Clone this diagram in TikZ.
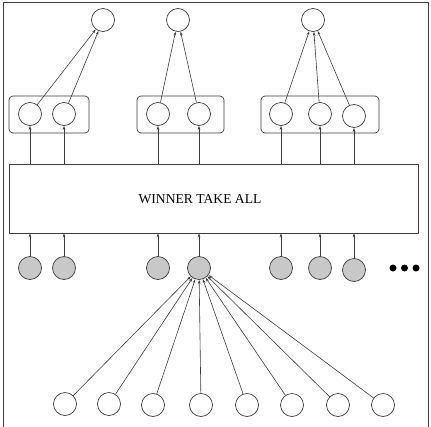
\documentclass[tikz,border=0pt]{standalone}
\usepackage{fontspec}
\setmainfont{Liberation Serif}
\usetikzlibrary{arrows.meta,positioning,calc}
\definecolor{wtaLine}{RGB}{60, 60, 60}
\definecolor{wtaGray}{RGB}{200, 200, 200}

\tikzset{
    unit/.style={circle, draw=wtaLine, line width=0.7pt, minimum size=23pt, inner sep=0pt},
    hidden/.style={unit, fill=wtaGray},
    groupbox/.style={draw=wtaLine, line width=0.7pt, rounded corners=4pt, inner sep=0pt},
    link/.style={draw=wtaLine, line width=0.6pt, -{Stealth[length=4pt,width=2.6pt]}},
    dot/.style={circle, fill=black, minimum size=7pt, inner sep=0pt}
}

\begin{document}
\begin{tikzpicture}[x=1pt, y=-1pt, line cap=round, line join=round]
        \useasboundingbox (0,0) rectangle (431,426);
        \draw[wtaLine, line width=0.8pt] (3,432) -- (3,2) -- (428,2) -- (428,432);
        % groups
        \node[groupbox, minimum width=80pt, minimum height=37pt] (box1) at (49,114.5) {};
        \node[groupbox, minimum width=87pt, minimum height=37pt] (box2) at (180.5,114.5) {};
        \node[groupbox, minimum width=118pt, minimum height=37pt] (box3) at (320,114.5) {};
        \node[unit] (top1) at (103,20) {};
        \node[unit] (top2) at (178,20) {};
        \node[unit] (top3) at (313,20) {};
        \node[unit] (g1a) at (30,114) {};
        \node[unit] (g1b) at (64,114) {};
        \node[unit] (g2a) at (158,114) {};
        \node[unit] (g2b) at (199,114) {};
        \node[unit] (g3a) at (281,114) {};
        \node[unit] (g3b) at (320,114) {};
        \node[unit] (g3c) at (354,116) {};
        \path[link] (g1a) -- (top1);
        \path[link] (g1b) -- (top1);
        \path[link] (g2a) -- (top2);
        \path[link] (g2b) -- (top2);
        \path[link] (g3a) -- (top3);
        \path[link] (g3b) -- (top3);
        \path[link] (g3c) -- (top3);
        % winner take all layer
        \node[draw=wtaLine, line width=0.7pt, minimum width=409pt, minimum height=69pt, inner sep=0pt] (wta) at (213.5,198.5) {};
        \node[font=\fontsize{13.6}{16}\selectfont, inner sep=0pt] (wtaText) at (200,199.5) {WINNER TAKE ALL};
        \path[link] (wta.north -| g1a) -- (g1a);
        \path[link] (wta.north -| g1b) -- (g1b);
        \path[link] (wta.north -| g2a) -- (g2a);
        \path[link] (wta.north -| g2b) -- (g2b);
        \path[link] (wta.north -| g3a) -- (g3a);
        \path[link] (wta.north -| g3b) -- (g3b);
        \path[link] (wta.north -| g3c) -- (g3c);
        % hidden units
        \node[hidden] (h1) at (30,268) {};
        \node[hidden] (h2) at (64,268) {};
        \node[hidden] (h3) at (158,268) {};
        \node[hidden] (h4) at (199,268) {};
        \node[hidden] (h5) at (281,268) {};
        \node[hidden] (h6) at (320,268) {};
        \node[hidden] (h7) at (354,270) {};
        \node[dot] (d1) at (393,268) {};
        \node[dot] (d2) at (404.5,268) {};
        \node[dot] (d3) at (416,268) {};
        \path[link] (h1) -- (h1 |- wta.south);
        \path[link] (h2) -- (h2 |- wta.south);
        \path[link] (h3) -- (h3 |- wta.south);
        \path[link] (h4) -- (h4 |- wta.south);
        \path[link] (h5) -- (h5 |- wta.south);
        \path[link] (h6) -- (h6 |- wta.south);
        \path[link] (h7) -- (h7 |- wta.south);
        % inputs
        \node[unit] (in1) at (65,404) {};
        \node[unit] (in2) at (109,404) {};
        \node[unit] (in3) at (153,405) {};
        \node[unit] (in4) at (201,405) {};
        \node[unit] (in5) at (247,405) {};
        \node[unit] (in6) at (292,405) {};
        \node[unit] (in7) at (338,405) {};
        \node[unit] (in8) at (383,405) {};
        \path[link] (in1) -- (h4);
        \path[link] (in2) -- (h4);
        \path[link] (in3) -- (h4);
        \path[link] (in4) -- (h4);
        \path[link] (in5) -- (h4);
        \path[link] (in6) -- (h4);
        \path[link] (in7) -- (h4);
        \path[link] (in8) -- (h4);
    \end{tikzpicture}
\end{document}
